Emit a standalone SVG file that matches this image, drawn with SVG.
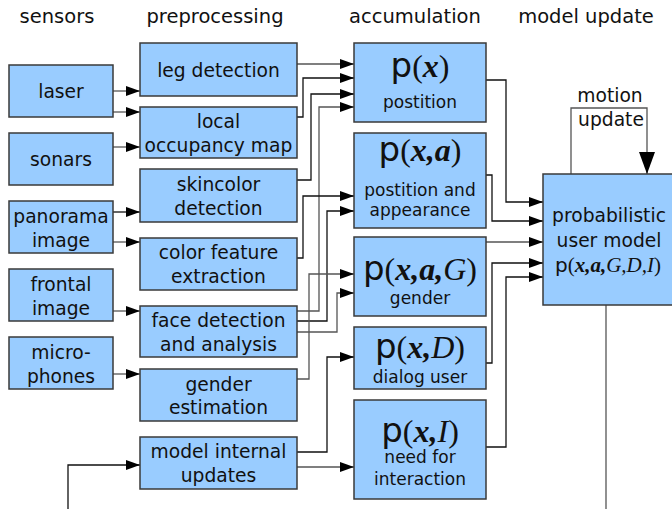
<svg xmlns="http://www.w3.org/2000/svg" width="672" height="509" viewBox="0 0 672 509">
  <style>
    .box { fill: #99ccff; stroke: #3a3a3a; stroke-width: 1.5; }
    .lbl { font-family: "DejaVu Sans", Verdana, sans-serif; font-size: 18.7px; fill: #111; text-anchor: middle; }
    .hdr { font-family: "DejaVu Sans", Verdana, sans-serif; font-size: 19.5px; fill: #111; text-anchor: middle; }
    .sub { font-family: "DejaVu Sans", Verdana, sans-serif; font-size: 17px; fill: #111; text-anchor: middle; }
    .math { font-family: "Liberation Serif", "Times New Roman", serif; font-size: 32px; fill: #111; text-anchor: middle; }
    .mathS { font-family: "Liberation Serif", "Times New Roman", serif; font-size: 21px; fill: #111; text-anchor: middle; }
    .pp { font-family: "DejaVu Sans", Verdana, sans-serif; font-size: 34px; }
    .ps { font-family: "DejaVu Sans", Verdana, sans-serif; font-size: 20px; }
    .bi { font-weight: bold; font-style: italic; }
    .it { font-style: italic; }
    .k { fill: none; stroke: #111; stroke-width: 1.3; marker-end: url(#arr); }
    .g { fill: none; stroke: #555; stroke-width: 1.3; marker-end: url(#arr); }
    .g0 { fill: none; stroke: #555; stroke-width: 1.3; }
  </style>
  <defs>
    <marker id="arr" markerUnits="userSpaceOnUse" markerWidth="16" markerHeight="12" refX="14" refY="5" orient="auto">
      <path d="M0,0 L14,5 L0,10 Z" fill="#000"/>
    </marker>
    <marker id="arrBig" markerUnits="userSpaceOnUse" markerWidth="24" markerHeight="18" refX="22" refY="8" orient="auto">
      <path d="M0,0 L22,8 L0,16 Z" fill="#000"/>
    </marker>
  </defs>
  <rect width="672" height="509" fill="#fff"/>

  <!-- column headings -->
  <g id="headings">
    <text class="hdr" x="57" y="23">sensors</text>
    <text class="hdr" x="215" y="23">preprocessing</text>
    <text class="hdr" x="415" y="23">accumulation</text>
    <text class="hdr" x="586" y="23">model update</text>
  </g>

  <!-- connectors -->
  <g id="connectors">
    <!-- sensors to preprocessing -->
    <path class="g" d="M113,91 H140"/>
    <path class="g" d="M113,112 H140"/>
    <path class="g" d="M113,147 H140"/>
    <path class="k" d="M113,212 H140"/>
    <path class="g" d="M113,242 H140"/>
    <path class="g" d="M113,311 H140"/>
    <path class="g" d="M113,374 H140"/>
    <!-- preprocessing to accumulation -->
    <path class="g" d="M297,64 H354"/>
    <path class="k" d="M297,117 H303 V78 H354"/>
    <path class="k" d="M297,180 H311 V94 H354"/>
    <path class="g" d="M297,311 H319 V107 H354"/>
    <path class="k" d="M297,258 H303 V196 H354"/>
    <path class="k" d="M297,321 H327 V211 H354"/>
    <path class="g" d="M297,379 H309 V274 H354"/>
    <path class="g" d="M297,332 H337 V293 H354"/>
    <path class="k" d="M297,452 H327 V357 H354"/>
    <path class="g" d="M297,467 H354"/>
    <!-- accumulation to user model -->
    <path class="k" d="M486,80 H506 V202 H543"/>
    <path class="k" d="M486,175 H492 V221 H543"/>
    <path class="g" d="M486,242 H543"/>
    <path class="k" d="M486,363 H492 V263 H543"/>
    <path class="k" d="M486,447 H506 V277 H543"/>
    <!-- motion update loop -->
    <path fill="none" stroke="#555" stroke-width="1.3" d="M571,174 V108 H647 V174" marker-end="url(#arrBig)"/>
    <!-- external loop -->
    <path class="g0" d="M606,305 V509"/>
    <path class="k" d="M68,509 V465 H140"/>
  </g>

  <!-- sensors -->
  <g id="laser"><rect class="box" x="9" y="65" width="104" height="52"/><text class="lbl" x="61" y="98">laser</text></g>
  <g id="sonars"><rect class="box" x="9" y="133" width="104" height="52"/><text class="lbl" x="61" y="166">sonars</text></g>
  <g id="panorama"><rect class="box" x="9" y="201" width="104" height="52"/><text class="lbl" x="61" y="223">panorama</text><text class="lbl" x="61" y="247">image</text></g>
  <g id="frontal"><rect class="box" x="9" y="269" width="104" height="52"/><text class="lbl" x="61" y="291">frontal</text><text class="lbl" x="61" y="315">image</text></g>
  <g id="microphones"><rect class="box" x="9" y="337" width="104" height="52"/><text class="lbl" x="61" y="359">micro-</text><text class="lbl" x="61" y="383">phones</text></g>

  <!-- preprocessing -->
  <g id="leg"><rect class="box" x="140" y="43" width="157" height="53"/><text class="lbl" x="218.5" y="77">leg detection</text></g>
  <g id="occupancy"><rect class="box" x="140" y="107" width="157" height="51"/><text class="lbl" x="218.5" y="128">local</text><text class="lbl" x="218.5" y="152">occupancy map</text></g>
  <g id="skincolor"><rect class="box" x="140" y="169" width="157" height="53"/><text class="lbl" x="218.5" y="191">skincolor</text><text class="lbl" x="218.5" y="215">detection</text></g>
  <g id="colorfeature"><rect class="box" x="140" y="238" width="157" height="52"/><text class="lbl" x="218.5" y="259">color feature</text><text class="lbl" x="218.5" y="283">extraction</text></g>
  <g id="face"><rect class="box" x="140" y="306" width="157" height="51"/><text class="lbl" x="218.5" y="327">face detection</text><text class="lbl" x="218.5" y="351">and analysis</text></g>
  <g id="genderest"><rect class="box" x="140" y="369" width="157" height="52"/><text class="lbl" x="218.5" y="391">gender</text><text class="lbl" x="218.5" y="414">estimation</text></g>
  <g id="internal"><rect class="box" x="140" y="437" width="157" height="52"/><text class="lbl" x="218.5" y="458">model internal</text><text class="lbl" x="218.5" y="482">updates</text></g>

  <!-- accumulation -->
  <g id="px"><rect class="box" x="354" y="43" width="132" height="79"/>
    <text class="math" x="420" y="77"><tspan class="pp">p</tspan>(<tspan class="bi">x</tspan>)</text>
    <text class="sub" x="420" y="108">postition</text></g>
  <g id="pxa"><rect class="box" x="354" y="133" width="132" height="95"/>
    <text class="math" x="420" y="161"><tspan class="pp">p</tspan>(<tspan class="bi">x,a</tspan>)</text>
    <text class="sub" x="420" y="196">postition and</text>
    <text class="sub" x="420" y="216">appearance</text></g>
  <g id="pxaG"><rect class="box" x="354" y="237" width="132" height="79"/>
    <text class="math" x="420" y="280"><tspan class="pp">p</tspan>(<tspan class="bi">x,a,</tspan><tspan class="it">G</tspan>)</text>
    <text class="sub" x="420" y="304">gender</text></g>
  <g id="pxD"><rect class="box" x="354" y="327" width="132" height="62"/>
    <text class="math" x="420" y="358"><tspan class="pp">p</tspan>(<tspan class="bi">x,</tspan><tspan class="it">D</tspan>)</text>
    <text class="sub" x="420" y="383">dialog user</text></g>
  <g id="pxI"><rect class="box" x="354" y="400" width="132" height="99"/>
    <text class="math" x="420" y="442"><tspan class="pp">p</tspan>(<tspan class="bi">x,</tspan><tspan class="it">I</tspan>)</text>
    <text class="sub" x="420" y="463">need for</text>
    <text class="sub" x="420" y="485">interaction</text></g>

  <!-- model update -->
  <g id="usermodel"><rect class="box" x="543" y="174" width="140" height="131"/>
    <text class="lbl" x="609" y="222">probabilistic</text>
    <text class="lbl" x="609" y="247">user model</text>
    <text class="mathS" x="608" y="272"><tspan class="ps">p</tspan>(<tspan class="bi">x,a,</tspan><tspan class="it">G,D,I</tspan>)</text></g>
  <g id="motionlabel">
    <text class="lbl" x="610" y="102">motion</text>
    <text class="lbl" x="611" y="126">update</text>
  </g>
</svg>
